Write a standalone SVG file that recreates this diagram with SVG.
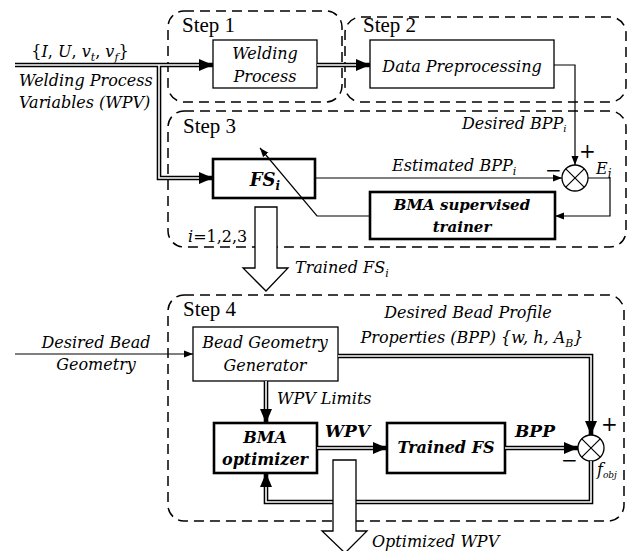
<svg xmlns="http://www.w3.org/2000/svg" width="633" height="551" viewBox="0 0 633 551">
<style>
.step{fill:none;stroke:#000;stroke-width:1.5;stroke-dasharray:10 6}
.box{fill:#fff;stroke:#000;stroke-width:1.3}
.tbox{fill:#fff;stroke:#000;stroke-width:2.6}
.thin{fill:none;stroke:#000;stroke-width:1.2}
.dblo{fill:none;stroke:#000;stroke-width:4.6}
.dbli{fill:none;stroke:#fff;stroke-width:1.6}
.hollow{fill:#fff;stroke:#000;stroke-width:1.3}
.sum{fill:#fff;stroke:#000;stroke-width:1.3}
text{font-family:"DejaVu Serif","Liberation Serif",serif;fill:#000}
.st{font-family:"Liberation Serif",serif;font-size:21px}
.it{font-style:italic;font-size:16px}
.bi{font-style:italic;font-weight:bold}
.c{text-anchor:middle}
</style>
<defs>
<marker id="ab" markerUnits="userSpaceOnUse" markerWidth="14" markerHeight="12" refX="14" refY="6" orient="auto"><path d="M0,0 L14,6 L0,12 z" fill="#000"/></marker>
<marker id="as" markerUnits="userSpaceOnUse" markerWidth="9" markerHeight="8" refX="9" refY="4" orient="auto"><path d="M0,0.5 L9,4 L0,7.5 z" fill="#000"/></marker>
</defs>

<g id="step1"><rect class="step" x="168" y="11" width="174" height="91" rx="16"/><text class="st" x="182" y="32">Step 1</text></g>
<g id="step2"><rect class="step" x="345" y="17" width="281" height="85" rx="16"/><text class="st" x="363" y="32">Step 2</text></g>
<g id="step3"><rect class="step" x="168" y="111" width="458" height="136" rx="16"/><text class="st" x="183" y="133">Step 3</text></g>
<g id="step4"><rect class="step" x="168" y="295" width="456" height="226" rx="16"/><text class="st" x="183" y="316">Step 4</text></g>

<g id="welding"><rect class="box" x="213" y="40" width="104" height="48"/><text class="it c" x="265" y="59">Welding</text><text class="it c" x="265" y="82">Process</text></g>
<g id="preproc"><rect class="box" x="370" y="40" width="184" height="48"/><text class="it c" x="462" y="72">Data Preprocessing</text></g>
<g id="fs"><rect class="tbox" x="213" y="159" width="102" height="39"/><text class="bi c" x="265" y="186" font-size="18">FS<tspan font-size="12" dy="4">i</tspan></text></g>
<g id="trainer"><rect class="tbox" x="370" y="192" width="185" height="47"/><text class="bi c" x="462" y="210" font-size="15">BMA supervised</text><text class="bi c" x="462" y="232" font-size="15">trainer</text></g>
<g id="sum1"><circle class="sum" cx="575" cy="178" r="13"/><path class="thin" d="M565.8,168.8 L584.2,187.2 M584.2,168.8 L565.8,187.2"/></g>
<g id="bgg"><rect class="box" x="193" y="327" width="145" height="54"/><text class="it c" x="265" y="348">Bead Geometry</text><text class="it c" x="265" y="371">Generator</text></g>
<g id="bma"><rect class="tbox" x="214" y="423" width="103" height="50"/><text class="bi c" x="265" y="443" font-size="16">BMA</text><text class="bi c" x="265" y="465" font-size="16">optimizer</text></g>
<g id="tfs"><rect class="tbox" x="387" y="423" width="118" height="50"/><text class="bi c" x="446" y="453" font-size="16">Trained FS</text></g>
<g id="sum2"><circle class="sum" cx="591" cy="448" r="13"/><path class="thin" d="M581.8,438.8 L600.2,457.2 M600.2,438.8 L581.8,457.2"/></g>

<g id="connectors">
<path class="dblo" d="M15,65 H213" marker-end="url(#ab)"/>
<path class="dblo" d="M159,65 V178 H213" marker-end="url(#ab)"/>
<path class="dblo" d="M317,65 H370" marker-end="url(#ab)"/>
<path class="dblo" d="M338,356 H591 V435" marker-end="url(#ab)"/>
<path class="dblo" d="M266,381 V423" marker-end="url(#ab)"/>
<path class="dblo" d="M317,448 H387" marker-end="url(#ab)"/>
<path class="dblo" d="M505,448 H578" marker-end="url(#ab)"/>
<path class="dblo" d="M591,461 V502 H266 V473" marker-end="url(#ab)"/>
<path class="dbli" d="M15,65 H199"/>
<path class="dbli" d="M159,65 V178 H199"/>
<path class="dbli" d="M317,65 H356"/>
<path class="dbli" d="M338,356 H591 V421"/>
<path class="dbli" d="M266,381 V409"/>
<path class="dbli" d="M317,448 H373"/>
<path class="dbli" d="M505,448 H564"/>
<path class="dbli" d="M591,461 V502 H266 V487"/>
<path class="thin" d="M554,65 H575 V165" marker-end="url(#as)"/>
<path class="thin" d="M315,178 H562" marker-end="url(#as)"/>
<path class="thin" d="M588,178 H610 V216 H555" marker-end="url(#as)"/>
<path class="thin" d="M370,216 H317 L260,148" marker-end="url(#as)"/>
<path class="thin" d="M15,354 H193" marker-end="url(#as)"/>
<polygon class="hollow" points="255,207 277,207 277,268 288,268 266,291 243,268 255,268"/>
<polygon class="hollow" points="333,460 356,460 356,531 367,531 345,553 322,531 333,531"/>
</g>

<g id="labels">
<text class="c" x="80" y="57" font-size="16">{<tspan font-style="italic">I</tspan>, <tspan font-style="italic">U</tspan>, <tspan font-style="italic">v</tspan><tspan font-size="11" dy="4" font-style="italic">t</tspan><tspan dy="-4">, </tspan><tspan font-style="italic">v</tspan><tspan font-size="11" dy="4" font-style="italic">f</tspan><tspan dy="-4">}</tspan></text>
<text class="it" x="19" y="86" font-size="14">Welding Process</text>
<text class="it" x="19" y="108" font-size="14">Variables (WPV)</text>
<text class="it" x="462" y="129" font-size="15">Desired BPP<tspan font-size="10" dy="3">i</tspan></text>
<text class="it" x="392" y="171" font-size="16">Estimated BPP<tspan font-size="11" dy="4">i</tspan></text>
<text x="545" y="177" font-size="20">−</text>
<text x="579" y="158" font-size="20">+</text>
<text class="it" x="596" y="174" font-size="17">E<tspan font-size="12" dy="4">i</tspan></text>
<text class="it" x="188" y="242" font-size="14">i<tspan font-style="normal">=1,2,3</tspan></text>
<text class="it" x="295" y="273" font-size="16">Trained FS<tspan font-size="11" dy="4">i</tspan></text>
<text class="it c" x="96" y="348">Desired Bead</text>
<text class="it c" x="96" y="370">Geometry</text>
<text class="it c" x="468" y="318">Desired Bead Profile</text>
<text class="it c" x="472" y="343">Properties (BPP) {w, h, A<tspan font-size="11" dy="4">B</tspan><tspan dy="-4">}</tspan></text>
<text class="it" x="277" y="404" font-size="15">WPV Limits</text>
<text class="bi" x="325" y="437" font-size="17">WPV</text>
<text class="bi" x="515" y="437" font-size="17">BPP</text>
<text x="601" y="431" font-size="20">+</text>
<text x="561" y="467" font-size="20">−</text>
<text class="it" x="597" y="475" font-size="13">f<tspan font-size="9" dy="3">obj</tspan></text>
<text class="it" x="372" y="547">Optimized WPV</text>
</g>
</svg>
